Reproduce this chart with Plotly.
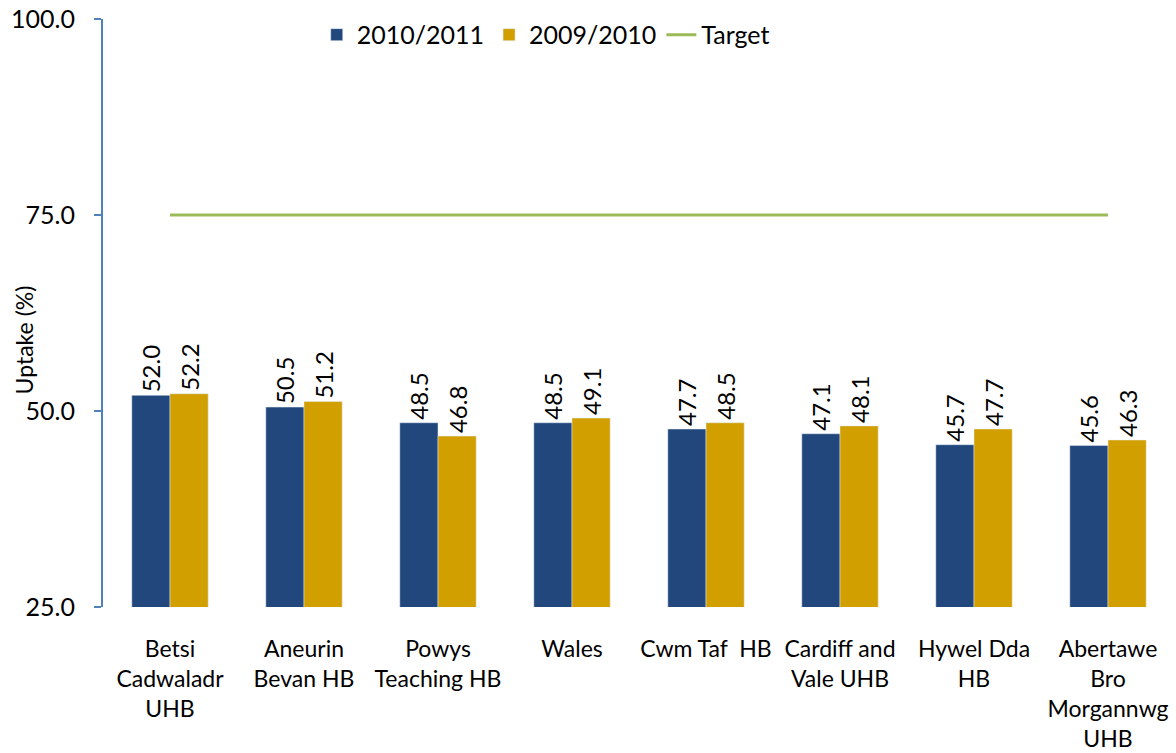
import plotly.graph_objects as go

categories = ["Betsi<br>Cadwaladr<br>UHB", "Aneurin<br>Bevan HB", "Powys<br>Teaching HB", "Wales",
              "Cwm Taf  HB", "Cardiff and<br>Vale UHB", "Hywel Dda<br>HB", "Abertawe<br>Bro<br>Morgannwg<br>UHB"]
uptake_2010_2011 = [52.0, 50.5, 48.5, 48.5, 47.7, 47.1, 45.7, 45.6]
uptake_2009_2010 = [52.2, 51.2, 46.8, 49.1, 48.5, 48.1, 47.7, 46.3]
target = [75.0] * len(categories)
y_ticks = [25, 50, 75, 100]

FONT = "Lato, Open Sans, sans-serif"
label_font = dict(size=24, color="black", family=FONT)

fig = go.Figure()
fig.add_trace(go.Bar(
    x=categories, y=uptake_2010_2011, name="2010/2011", marker_color="#21477C",
    text=[f"{v:.1f}" for v in uptake_2010_2011], textposition="outside", textangle=-90,
    constraintext="none", textfont=label_font, outsidetextfont=label_font, cliponaxis=False))
fig.add_trace(go.Bar(
    x=categories, y=uptake_2009_2010, name="2009/2010", marker_color="#D19F00",
    text=[f"{v:.1f}" for v in uptake_2009_2010], textposition="outside", textangle=-90,
    constraintext="none", textfont=label_font, outsidetextfont=label_font, cliponaxis=False))
fig.add_trace(go.Scatter(
    x=categories, y=target, name="Target", mode="lines",
    line=dict(color="#9BBB59", width=3)))

fig.add_annotation(text="Uptake (%)", xref="paper", yref="paper", x=-0.0728, y=0.455,
                   xanchor="center", yanchor="middle", textangle=-90, showarrow=False,
                   font=dict(size=23, family=FONT, color="black"))

fig.update_layout(
    width=1176, height=753,
    margin=dict(l=103, r=1, t=19, b=146, autoexpand=False),
    paper_bgcolor="white", plot_bgcolor="white",
    barmode="group", bargap=0.43, bargroupgap=0,
    font=dict(family=FONT, color="black"),
    uniformtext=dict(mode=False),
    legend=dict(orientation="h", x=0.413, xanchor="center", y=0.973, yanchor="middle",
                font=dict(size=25, family=FONT), bgcolor="rgba(0,0,0,0)",
                itemwidth=30, tracegroupgap=0),
    xaxis=dict(showline=False, showgrid=False, ticks="", tickfont=dict(size=23, family=FONT),
               ticklabelstandoff=26, automargin=False),
    yaxis=dict(range=[25, 100], tickvals=y_ticks, tickformat=".1f", showgrid=False,
               showline=True, linecolor="#4F81BD", linewidth=2, ticks="outside",
               tickcolor="#4F81BD", ticklen=7, tickwidth=1.5, ticklabelstandoff=14,
               tickfont=dict(size=25, family=FONT), automargin=False,
               zeroline=False),
)
fig.write_html("out.html", post_script="document.body.style.margin='0';",
               config={"displayModeBar": False})
